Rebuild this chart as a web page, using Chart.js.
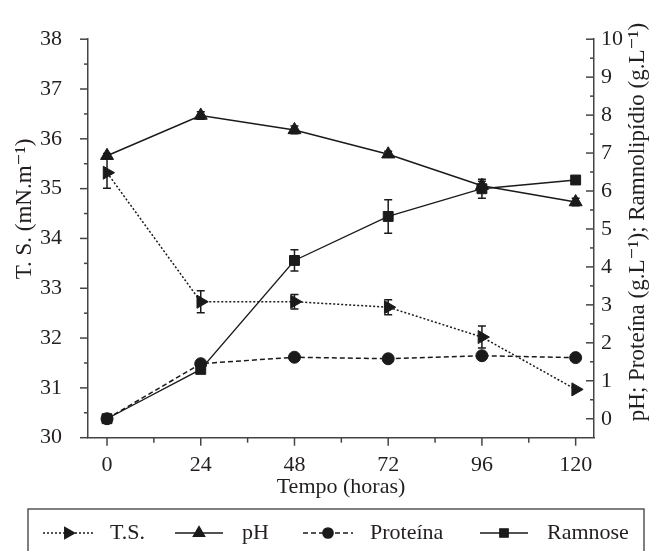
<!DOCTYPE html>
<html>
<head>
<meta charset="utf-8">
<script src="https://cdn.jsdelivr.net/npm/chart.js@4.4.1/dist/chart.umd.min.js"></script>
<style>
  html, body { margin: 0; padding: 0; background: #fff; }
  canvas { display: block; }
</style>
</head>
<body>
<canvas id="grafico" width="654" height="551"></canvas>
<script>
// dados
const horas = [0, 24, 48, 72, 96, 120];
const ts = [35.32, 32.73, 32.73, 32.62, 32.02, 30.97];
const tsErro = [0.31, 0.22, 0.145, 0.15, 0.22, 0];
const ph = [6.93, 7.99, 7.61, 6.97, 6.14, 5.71];
const phErro = [0.06, 0.1, 0.1, 0.08, 0.12, 0.1];
const proteina = [0, 1.45, 1.62, 1.58, 1.66, 1.61];
const proteinaErro = [0, 0, 0, 0, 0, 0];
const ramnose = [0, 1.30, 4.17, 5.33, 6.06, 6.29];
const ramnoseErro = [0, 0.08, 0.28, 0.44, 0.25, 0];

const ticksX = [0, 24, 48, 72, 96, 120];
const ticksEsq = [30, 31, 32, 33, 34, 35, 36, 37, 38];
const ticksDir = [0, 1, 2, 3, 4, 5, 6, 7, 8, 9, 10];

const preto = '#1a1a1a';
const eixo = '#444';
const fonte = "'Liberation Serif', 'DejaVu Serif', serif";

Chart.defaults.font.family = fonte;
Chart.defaults.font.size = 22;
Chart.defaults.color = '#231f20';

const pontos = arr => arr.map((v, i) => ({ x: horas[i], y: v }));

const series = [
  { label: 'T.S.', data: pontos(ts), erro: tsErro, yAxisID: 'yEsq', pointStyle: 'triangle', rot: 90, raio: 7.5, dash: [2, 2], larg: 1.5 },
  { label: 'pH', data: pontos(ph), erro: phErro, yAxisID: 'yDir', pointStyle: 'triangle', rot: 0, raio: 7.5, dash: [], larg: 1.5 },
  { label: 'Proteína', data: pontos(proteina), erro: proteinaErro, yAxisID: 'yDir', pointStyle: 'circle', rot: 0, raio: 6, dash: [5, 3], larg: 1.5 },
  { label: 'Ramnose', data: pontos(ramnose), erro: ramnoseErro, yAxisID: 'yDir', pointStyle: 'rect', rot: 0, raio: 7, dash: [], larg: 1.3 }
];

function tracos(ctx, scale, valores, tam, lado) {
  valores.forEach(v => {
    const p = scale.getPixelForValue(v);
    ctx.beginPath();
    if (lado === 'baixo') { ctx.moveTo(p, scale.top); ctx.lineTo(p, scale.top + tam); }
    else if (lado === 'esq') { ctx.moveTo(scale.right, p); ctx.lineTo(scale.right - tam, p); }
    else { ctx.moveTo(scale.left, p); ctx.lineTo(scale.left - tam, p); }
    ctx.stroke();
  });
}

const meios = arr => arr.slice(0, -1).map((v, i) => (v + arr[i + 1]) / 2);

const extras = {
  id: 'extras',
  beforeDatasetsDraw(chart) {
    const ctx = chart.ctx;
    ctx.save();
    ctx.strokeStyle = preto;
    ctx.lineWidth = 1.5;
    chart.data.datasets.forEach(ds => {
      const ys = chart.scales[ds.yAxisID];
      ds.data.forEach((p, i) => {
        const e = ds.erro[i];
        if (!e) return;
        const x = chart.scales.x.getPixelForValue(p.x);
        const y1 = ys.getPixelForValue(p.y + e);
        const y2 = ys.getPixelForValue(p.y - e);
        ctx.beginPath();
        ctx.moveTo(x, y1); ctx.lineTo(x, y2);
        ctx.moveTo(x - 4, y1); ctx.lineTo(x + 4, y1);
        ctx.moveTo(x - 4, y2); ctx.lineTo(x + 4, y2);
        ctx.stroke();
      });
    });
    ctx.restore();
  },
  afterDraw(chart) {
    const ctx = chart.ctx;
    const { x, yEsq, yDir } = chart.scales;
    ctx.save();
    ctx.strokeStyle = eixo;
    ctx.lineWidth = 1.5;
    tracos(ctx, x, ticksX, 8, 'baixo');
    tracos(ctx, x, meios(ticksX), 5, 'baixo');
    tracos(ctx, yEsq, ticksEsq, 8, 'esq');
    tracos(ctx, yEsq, meios(ticksEsq), 4, 'esq');
    tracos(ctx, yDir, ticksDir, 8, 'dir');
    tracos(ctx, yDir, meios(ticksDir), 4, 'dir');

    // titulos dos eixos y
    ctx.fillStyle = '#231f20';
    ctx.font = '23px ' + fonte;
    ctx.textAlign = 'center';
    ctx.textBaseline = 'middle';
    ctx.save();
    ctx.translate(25, 209);
    ctx.rotate(-Math.PI / 2);
    ctx.fillText('T. S. (mN.m\u207B\u00B9)', 0, 0);
    ctx.restore();
    ctx.save();
    ctx.translate(638, 222);
    ctx.rotate(-Math.PI / 2);
    ctx.fillText('pH; Proteína (g.L\u207B\u00B9); Ramnolipídio (g.L\u207B\u00B9)', 0, 0);
    ctx.restore();

    // legenda
    ctx.font = '22px ' + fonte;
    ctx.strokeStyle = '#555';
    ctx.lineWidth = 1.5;
    ctx.strokeRect(28, 509, 616, 60);
    const posicoes = [[43, 93, 110], [175, 223, 242], [303, 353, 370], [480, 528, 547]];
    const yl = 533;
    chart.data.datasets.forEach((ds, i) => {
      const [a, b, t] = posicoes[i];
      ctx.strokeStyle = preto;
      ctx.lineWidth = ds.borderWidth;
      ctx.setLineDash(ds.borderDash);
      ctx.beginPath();
      ctx.moveTo(a, yl); ctx.lineTo(b, yl);
      ctx.stroke();
      ctx.setLineDash([]);
      ctx.fillStyle = preto;
      Chart.helpers.drawPoint(ctx, { pointStyle: ds.pointStyle, rotation: ds.rotation, radius: ds.pointRadius * 0.85, borderWidth: 1 }, (a + b) / 2, yl);
      ctx.fillStyle = '#231f20';
      ctx.textAlign = 'left';
      ctx.fillText(ds.label, t, yl);
    });
    ctx.restore();
  }
};

new Chart(document.getElementById('grafico'), {
  type: 'line',
  data: {
    datasets: series.map(s => ({
      label: s.label,
      data: s.data,
      erro: s.erro,
      yAxisID: s.yAxisID,
      borderColor: preto,
      backgroundColor: preto,
      borderWidth: s.larg,
      borderDash: s.dash,
      pointStyle: s.pointStyle,
      rotation: s.rot,
      pointRadius: s.raio,
      pointBorderWidth: 1,
      tension: 0,
      clip: false
    }))
  },
  options: {
    responsive: false,
    animation: false,
    layout: { padding: { left: 0, right: 0, top: 24, bottom: 51 } },
    plugins: { legend: { display: false }, tooltip: { enabled: false } },
    scales: {
      x: {
        type: 'linear',
        min: -4.87,
        max: 124.7,
        afterBuildTicks: s => { s.ticks = ticksX.map(v => ({ value: v })); },
        afterFit: s => { s.height = 62.3; },
        grid: { display: false, drawTicks: false },
        border: { display: true, color: eixo, width: 1.5 },
        ticks: { padding: 14, maxRotation: 0 },
        title: { display: true, text: 'Tempo (horas)', padding: 0 }
      },
      yEsq: {
        position: 'left',
        min: 30,
        max: 38,
        afterBuildTicks: s => { s.ticks = ticksEsq.map(v => ({ value: v })); },
        afterFit: s => { s.width = 88; },
        grid: { display: false, drawTicks: false },
        border: { display: true, color: eixo, width: 1.5 },
        ticks: { padding: 26 }
      },
      yDir: {
        position: 'right',
        min: -0.5,
        max: 10,
        afterBuildTicks: s => { s.ticks = ticksDir.map(v => ({ value: v })); },
        afterFit: s => { s.width = 60; },
        grid: { display: false, drawTicks: false },
        border: { display: true, color: eixo, width: 1.5 },
        ticks: { padding: 7 }
      }
    }
  },
  plugins: [extras]
});
</script>
</body>
</html>
